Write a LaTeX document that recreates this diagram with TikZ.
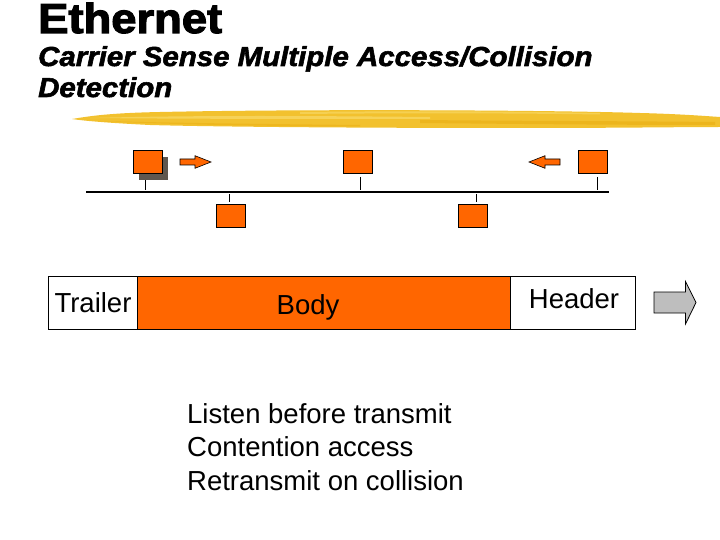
\documentclass[tikz,border=0pt]{standalone}
\usepackage{fontspec}
\setmainfont{Liberation Sans}
\newfontfamily\titlefont[FakeBold=2.5]{Liberation Sans Bold}
\newfontfamily\subfont[FakeBold=2]{Liberation Sans Bold Italic}
\definecolor{orangeC}{HTML}{FF6600}
\definecolor{shadowC}{HTML}{5F574F}
\definecolor{grayA}{HTML}{BEBEBE}
\definecolor{brushA}{HTML}{F2C12E}
\definecolor{brushB}{HTML}{F8DA6A}
\definecolor{brushC}{HTML}{E9AE12}
\begin{document}
\begin{tikzpicture}[x=1pt,y=-1pt,
  station/.style={draw=black, line width=0.8pt, fill=orangeC, minimum width=29pt, minimum height=23pt, inner sep=0pt, anchor=north west},
  shadowbox/.style={fill=shadowC, minimum width=29pt, minimum height=23pt, inner sep=0pt, anchor=north west},
  stem/.style={line width=0.8pt},
  bus/.style={line width=1.2pt},
  framepart/.style={draw=black, line width=0.8pt, minimum height=53pt, inner sep=0pt, anchor=north west},
  txt/.style={inner sep=0pt, anchor=base west, font=\fontsize{27.5}{33}\selectfont},
  smallarrow/.style={draw=black, line width=0.6pt, fill=orangeC}]
\useasboundingbox (0,0) rectangle (720,540);
\fill[white] (0,0) rectangle (720,540);

% title
\node[inner sep=0pt, anchor=base west] (title) at (38,33) {\scalebox{1.08}[1]{\titlefont\fontsize{42}{42}\selectfont Ethernet}};
\node[inner sep=0pt, anchor=base west] (sub1) at (38,66) {\scalebox{1.07}[1]{\subfont\fontsize{27.5}{30}\selectfont Carrier Sense Multiple Access/Collision}};
\node[inner sep=0pt, anchor=base west] (sub2) at (38,97) {\scalebox{1.07}[1]{\subfont\fontsize{27.5}{30}\selectfont Detection}};

% brush stroke
\fill[brushA] (72,119) .. controls (90,116) and (110,113) .. (160,112)
  .. controls (300,109) and (550,110) .. (640,113) .. controls (680,114) and (705,116) .. (720,117)
  -- (720,127) .. controls (680,127) and (620,128) .. (520,128)
  .. controls (380,128) and (220,127) .. (150,125) .. controls (110,123) and (85,121) .. (72,119) -- cycle;
\fill[brushB, opacity=0.7] (90,118) .. controls (200,115) and (320,116) .. (430,117) -- (430,119) .. controls (300,119) and (200,119) .. (90,118) -- cycle;
\fill[brushC, opacity=0.6] (420,120) .. controls (520,121) and (620,121) .. (715,122) -- (715,125) .. controls (620,125) and (520,124) .. (420,123) -- cycle;
\fill[brushB, opacity=0.6] (300,112) .. controls (400,111) and (500,111) .. (600,113) -- (600,114.5) .. controls (500,113) and (400,113) .. (300,114) -- cycle;
\fill[brushC, opacity=0.5] (100,121) .. controls (180,123) and (260,124) .. (360,125) -- (360,126.5) .. controls (260,126) and (180,125) .. (100,121) -- cycle;

% bus
\coordinate (busL) at (86,192);
\coordinate (busR) at (609,192);
\draw[bus] (busL) -- (busR);

% stations
\node[shadowbox] (s1sh) at (139,157) {};
\node[station] (s1) at (133,150) {};
\node[station] (s2) at (343,150) {};
\node[station] (s3) at (578,150) {};
\node[station] (s4) at (216,204) {};
\node[station] (s5) at (458,204) {};

\coordinate (t1) at (145,190);
\coordinate (t2) at (360,190);
\coordinate (t3) at (597,190);
\coordinate (b4) at (229,194);
\coordinate (b5) at (476,194);
\draw[stem] (t1 |- s1sh.south) -- (t1);
\draw[stem] ([yshift=-3pt]t2 |- s2.south) -- (t2);
\draw[stem] ([yshift=-3pt]t3 |- s3.south) -- (t3);
\draw[stem] (b4) -- ([yshift=2pt]b4 |- s4.north);
\draw[stem] (b5) -- ([yshift=2pt]b5 |- s5.north);

% moving arrows
\draw[smallarrow] (180,159) -- (195,159) -- (195,155.7) -- (211,162) -- (195,168.3) -- (195,165) -- (180,165) -- cycle;
\draw[smallarrow] (560,159) -- (545,159) -- (545,155.7) -- (529,162) -- (545,168.3) -- (545,165) -- (560,165) -- cycle;

% frame
\node[framepart, fill=white, minimum width=89pt] (trailer) at (48,276) {};
\node[framepart, fill=orangeC, minimum width=373pt] (body) at (137,276) {};
\node[framepart, fill=white, minimum width=125pt] (header) at (510,276) {};
\node[txt, anchor=base] (trailerT) at (93,312) {Trailer};
\node[txt, anchor=base] (bodyT) at (308,314) {Body};
\node[txt, anchor=base] (headerT) at (574,308) {Header};

% big gray arrow
\draw[black, line width=0.8pt, fill=grayA] (654,292) -- (685.5,292) -- (685.5,281.5) -- (696,302.5) -- (685.5,324) -- (685.5,313) -- (654,313) -- cycle;

% bullet text
\node[txt] (l1) at (187,423) {Listen before transmit};
\node[txt] (l2) at (187,456.5) {Contention access};
\node[txt] (l3) at (187,490) {Retransmit on collision};
\end{tikzpicture}
\end{document}
